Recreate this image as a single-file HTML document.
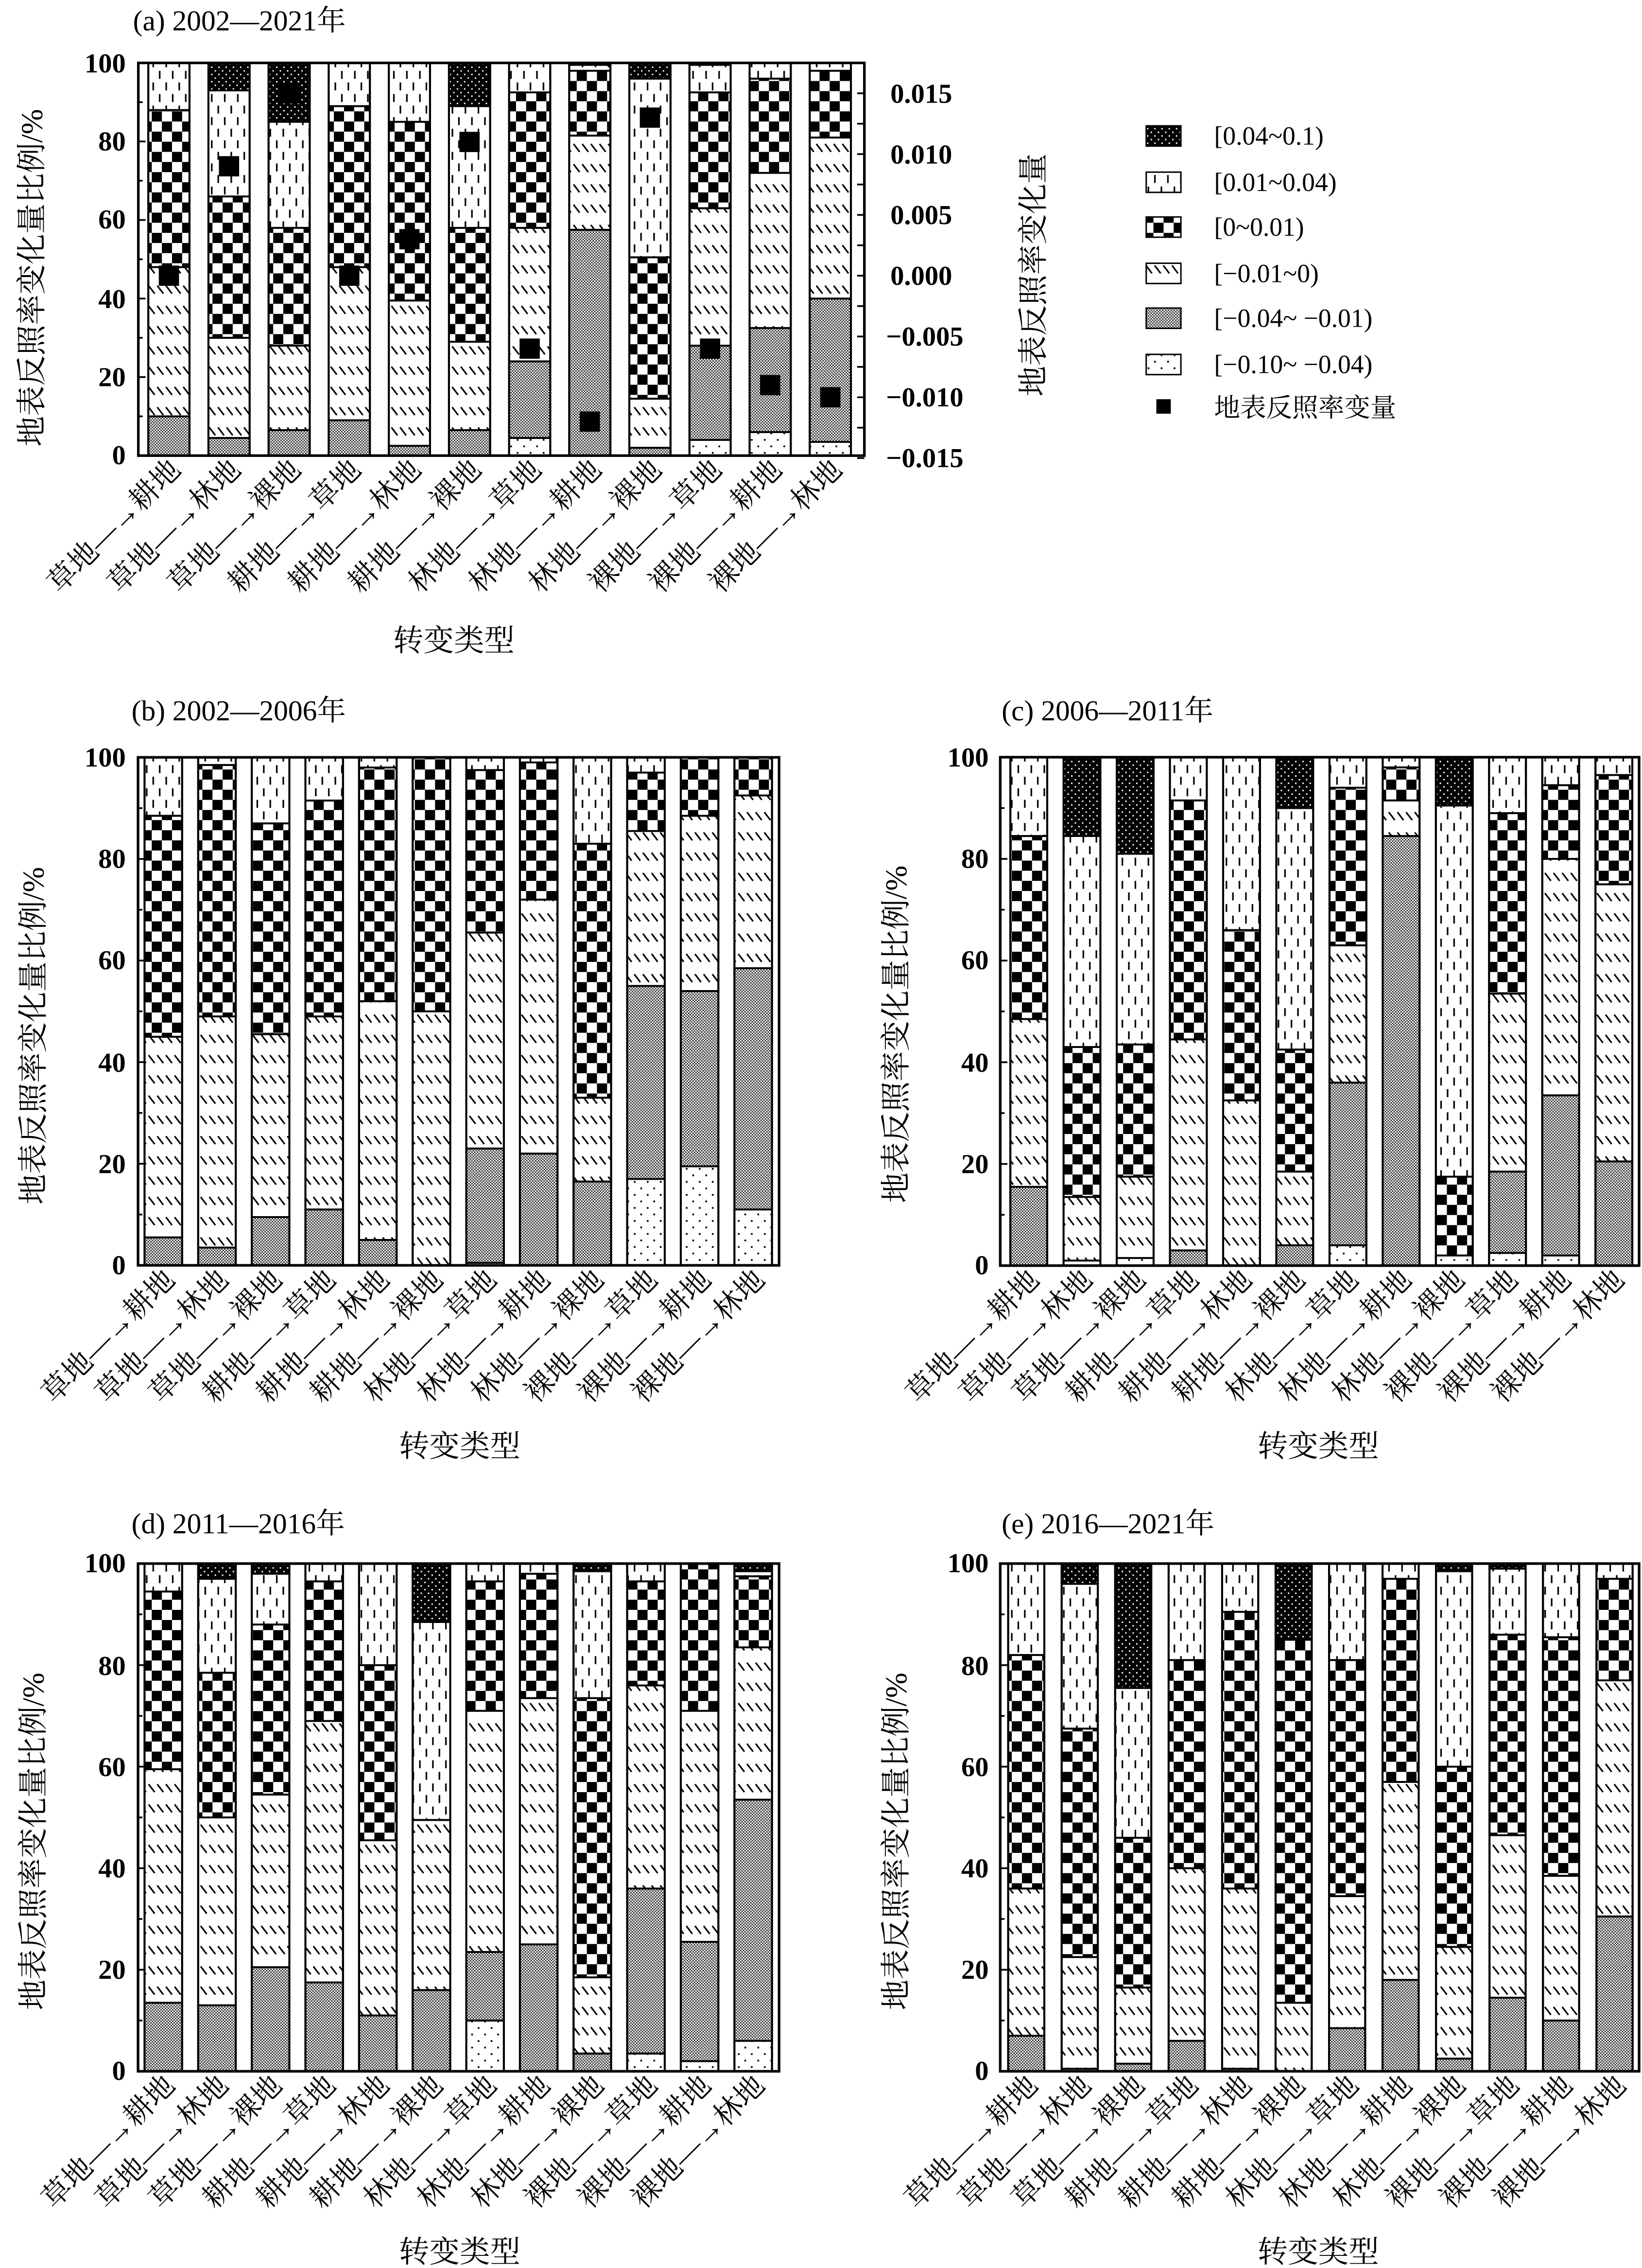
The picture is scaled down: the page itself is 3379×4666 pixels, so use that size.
<!DOCTYPE html>
<html><head><meta charset="utf-8"><style>
html,body{margin:0;padding:0;background:#fff;}
svg{display:block}
text{font-family:"Liberation Serif","Noto Serif CJK SC",serif;fill:#000}
.cj{font-family:"Liberation Serif","Noto Serif CJK SC","Noto Sans CJK SC",serif}
</style></head><body>
<svg id="s" width="3379" height="4666" viewBox="0 0 1136 1568" preserveAspectRatio="none" xmlns="http://www.w3.org/2000/svg">
<defs>
<pattern id="pDots" width="9" height="9" patternUnits="userSpaceOnUse"><rect width="9" height="9" fill="#fff"/><rect x="2" y="2" width="1.2" height="1.2" fill="#000"/><rect x="6.5" y="6.5" width="1.2" height="1.2" fill="#000"/></pattern>
<pattern id="pGrey" width="2" height="2" patternUnits="userSpaceOnUse"><rect width="2" height="2" fill="#fff"/><rect width="1" height="1" fill="#333"/><rect x="1" y="1" width="1" height="1" fill="#333"/></pattern>
<pattern id="pHatch" width="6" height="14" patternUnits="userSpaceOnUse"><rect width="6" height="14" fill="#fff"/><path d="M0.8 1.5 L5 7" stroke="#000" stroke-width="1.1"/></pattern>
<pattern id="pCheck" width="14" height="14" patternUnits="userSpaceOnUse"><rect width="14" height="14" fill="#fff"/><rect width="7" height="7" fill="#000"/><rect x="7" y="7" width="7" height="7" fill="#000"/></pattern>
<pattern id="pDash" width="9" height="16" patternUnits="userSpaceOnUse"><rect width="9" height="16" fill="#fff"/><path d="M2.5 1 V6.5 M7 9 V14.5" stroke="#000" stroke-width="1.1"/></pattern>
<pattern id="pDark" width="5" height="5" patternUnits="userSpaceOnUse"><rect width="5" height="5" fill="#000"/><rect x="1" y="1" width="1" height="1" fill="#fff"/><rect x="3.5" y="3.5" width="1" height="1" fill="#fff"/></pattern>
</defs>
<g id="bars"></g>

<text x="92" y="21" font-size="20" class="cj">(a) 2002—2021年</text>
<text x="91" y="498" font-size="20" class="cj">(b) 2002—2006年</text>
<text x="693" y="498" font-size="20" class="cj">(c) 2006—2011年</text>
<text x="91" y="1060" font-size="20" class="cj">(d) 2011—2016年</text>
<text x="693" y="1060" font-size="20" class="cj">(e) 2016—2021年</text>

<text transform="translate(22,192) rotate(-90)" text-anchor="middle" dominant-baseline="central" font-size="21" class="cj">地表反照率变化量比例/%</text>
<text transform="translate(23,716) rotate(-90)" text-anchor="middle" dominant-baseline="central" font-size="21" class="cj">地表反照率变化量比例/%</text>
<text transform="translate(620,715) rotate(-90)" text-anchor="middle" dominant-baseline="central" font-size="21" class="cj">地表反照率变化量比例/%</text>
<text transform="translate(23,1273) rotate(-90)" text-anchor="middle" dominant-baseline="central" font-size="21" class="cj">地表反照率变化量比例/%</text>
<text transform="translate(620,1273) rotate(-90)" text-anchor="middle" dominant-baseline="central" font-size="21" class="cj">地表反照率变化量比例/%</text>
<text transform="translate(715,190) rotate(-90)" text-anchor="middle" dominant-baseline="central" font-size="21" class="cj">地表反照率变化量</text>

<text x="314" y="450" text-anchor="middle" font-size="21" class="cj">转变类型</text>
<text x="318" y="1007" text-anchor="middle" font-size="21" class="cj">转变类型</text>
<text x="912" y="1007" text-anchor="middle" font-size="21" class="cj">转变类型</text>
<text x="318" y="1564" text-anchor="middle" font-size="21" class="cj">转变类型</text>
<text x="912" y="1564" text-anchor="middle" font-size="21" class="cj">转变类型</text>

<g font-size="19" text-anchor="end" font-weight="bold">
<text x="87" y="50">100</text><text x="87" y="104">80</text><text x="87" y="158">60</text><text x="87" y="213">40</text><text x="87" y="267">20</text><text x="87" y="321">0</text>
</g>
<g font-size="19" font-weight="bold">
<text x="616" y="71">0.015</text><text x="616" y="113">0.010</text><text x="616" y="155">0.005</text><text x="616" y="197">0.000</text>
<text x="613" y="239">−0.005</text><text x="613" y="281">−0.010</text><text x="613" y="323">−0.015</text>
</g>
<g font-size="19" text-anchor="end" font-weight="bold">
<text x="87" y="530">100</text><text x="87" y="600">80</text><text x="87" y="670">60</text><text x="87" y="741">40</text><text x="87" y="811">20</text><text x="87" y="881">0</text>
<text x="87" y="1087">100</text><text x="87" y="1158">80</text><text x="87" y="1228">60</text><text x="87" y="1298">40</text><text x="87" y="1368">20</text><text x="87" y="1438">0</text>
<text x="684" y="530">100</text><text x="684" y="600">80</text><text x="684" y="670">60</text><text x="684" y="741">40</text><text x="684" y="811">20</text><text x="684" y="881">0</text>
<text x="684" y="1087">100</text><text x="684" y="1158">80</text><text x="684" y="1228">60</text><text x="684" y="1298">40</text><text x="684" y="1368">20</text><text x="684" y="1438">0</text>
</g>

<g font-size="18">
<rect x="793" y="87" width="24" height="14" fill="url(#pDark)" stroke="#000"/><text x="840" y="100">[0.04~0.1)</text>
<rect x="793" y="119" width="24" height="14" fill="url(#pDash)" stroke="#000"/><text x="840" y="132">[0.01~0.04)</text>
<rect x="793" y="150" width="24" height="14" fill="url(#pCheck)" stroke="#000"/><text x="840" y="163">[0~0.01)</text>
<rect x="793" y="182" width="24" height="14" fill="url(#pHatch)" stroke="#000"/><text x="840" y="195">[−0.01~0)</text>
<rect x="793" y="213" width="24" height="14" fill="url(#pGrey)" stroke="#000"/><text x="840" y="226">[−0.04~ −0.01)</text>
<rect x="793" y="245" width="24" height="14" fill="url(#pDots)" stroke="#000"/><text x="840" y="258">[−0.10~ −0.04)</text>
<rect x="800" y="276" width="10" height="10" fill="#000"/><text x="840" y="288" class="cj">地表反照率变量</text>
</g>

<g font-size="20" text-anchor="end" class="cj" transform="translate(126,326)">
<text transform="translate(0,0) rotate(-45)">草地—→耕地</text>
<text transform="translate(41.6,0) rotate(-45)">草地—→林地</text>
<text transform="translate(83.2,0) rotate(-45)">草地—→裸地</text>
<text transform="translate(124.8,0) rotate(-45)">耕地—→草地</text>
<text transform="translate(166.4,0) rotate(-45)">耕地—→林地</text>
<text transform="translate(208,0) rotate(-45)">耕地—→裸地</text>
<text transform="translate(249.6,0) rotate(-45)">林地—→草地</text>
<text transform="translate(291.2,0) rotate(-45)">林地—→耕地</text>
<text transform="translate(332.8,0) rotate(-45)">林地—→裸地</text>
<text transform="translate(374.4,0) rotate(-45)">裸地—→草地</text>
<text transform="translate(416,0) rotate(-45)">裸地—→耕地</text>
<text transform="translate(457.6,0) rotate(-45)">裸地—→林地</text>
</g>
<g font-size="20" text-anchor="end" class="cj" transform="translate(122,886)">
<text transform="translate(0,0) rotate(-45)">草地—→耕地</text>
<text transform="translate(37.1,0) rotate(-45)">草地—→林地</text>
<text transform="translate(74.2,0) rotate(-45)">草地—→裸地</text>
<text transform="translate(111.3,0) rotate(-45)">耕地—→草地</text>
<text transform="translate(148.4,0) rotate(-45)">耕地—→林地</text>
<text transform="translate(185.5,0) rotate(-45)">耕地—→裸地</text>
<text transform="translate(222.6,0) rotate(-45)">林地—→草地</text>
<text transform="translate(259.7,0) rotate(-45)">林地—→耕地</text>
<text transform="translate(296.8,0) rotate(-45)">林地—→裸地</text>
<text transform="translate(333.9,0) rotate(-45)">裸地—→草地</text>
<text transform="translate(371,0) rotate(-45)">裸地—→耕地</text>
<text transform="translate(408.1,0) rotate(-45)">裸地—→林地</text>
</g>
<g font-size="20" text-anchor="end" class="cj" transform="translate(720,886)">
<text transform="translate(0,0) rotate(-45)">草地—→耕地</text>
<text transform="translate(36.8,0) rotate(-45)">草地—→林地</text>
<text transform="translate(73.6,0) rotate(-45)">草地—→裸地</text>
<text transform="translate(110.4,0) rotate(-45)">耕地—→草地</text>
<text transform="translate(147.2,0) rotate(-45)">耕地—→林地</text>
<text transform="translate(184,0) rotate(-45)">耕地—→裸地</text>
<text transform="translate(220.8,0) rotate(-45)">林地—→草地</text>
<text transform="translate(257.6,0) rotate(-45)">林地—→耕地</text>
<text transform="translate(294.4,0) rotate(-45)">林地—→裸地</text>
<text transform="translate(331.2,0) rotate(-45)">裸地—→草地</text>
<text transform="translate(368,0) rotate(-45)">裸地—→耕地</text>
<text transform="translate(404.8,0) rotate(-45)">裸地—→林地</text>
</g>
<g font-size="20" text-anchor="end" class="cj" transform="translate(122,1443)">
<text transform="translate(0,0) rotate(-45)">草地—→耕地</text>
<text transform="translate(37.1,0) rotate(-45)">草地—→林地</text>
<text transform="translate(74.2,0) rotate(-45)">草地—→裸地</text>
<text transform="translate(111.3,0) rotate(-45)">耕地—→草地</text>
<text transform="translate(148.4,0) rotate(-45)">耕地—→林地</text>
<text transform="translate(185.5,0) rotate(-45)">耕地—→裸地</text>
<text transform="translate(222.6,0) rotate(-45)">林地—→草地</text>
<text transform="translate(259.7,0) rotate(-45)">林地—→耕地</text>
<text transform="translate(296.8,0) rotate(-45)">林地—→裸地</text>
<text transform="translate(333.9,0) rotate(-45)">裸地—→草地</text>
<text transform="translate(371,0) rotate(-45)">裸地—→耕地</text>
<text transform="translate(408.1,0) rotate(-45)">裸地—→林地</text>
</g>
<g font-size="20" text-anchor="end" class="cj" transform="translate(719,1443)">
<text transform="translate(0,0) rotate(-45)">草地—→耕地</text>
<text transform="translate(37,0) rotate(-45)">草地—→林地</text>
<text transform="translate(74,0) rotate(-45)">草地—→裸地</text>
<text transform="translate(111,0) rotate(-45)">耕地—→草地</text>
<text transform="translate(148,0) rotate(-45)">耕地—→林地</text>
<text transform="translate(185,0) rotate(-45)">耕地—→裸地</text>
<text transform="translate(222,0) rotate(-45)">林地—→草地</text>
<text transform="translate(259,0) rotate(-45)">林地—→耕地</text>
<text transform="translate(296,0) rotate(-45)">林地—→裸地</text>
<text transform="translate(333,0) rotate(-45)">裸地—→草地</text>
<text transform="translate(370,0) rotate(-45)">裸地—→耕地</text>
<text transform="translate(407,0) rotate(-45)">裸地—→林地</text>
</g>
</svg>
<script>
(function(){
var NS="http://www.w3.org/2000/svg";
var g=document.getElementById("bars");
var fills=["url(#pDots)","url(#pGrey)","url(#pHatch)","url(#pCheck)","url(#pDash)","url(#pDark)"];
function el(t,a){var e=document.createElementNS(NS,t);for(var k in a)e.setAttribute(k,a[k]);g.appendChild(e);return e;}
var P=[
{bx0:95.7,bx1:598,top:43.5,bot:315,x0:102.6,p:41.6,w:28.5,d:[
[0,10,48,88,100,100],[0,4.5,30,66,93,100],[0,6.5,28,58,85,100],[0,9,48,89,100,100],[0,2.5,39.5,85,100,100],[0,6.5,29,58,89,100],
[4.5,24,58,92.5,100,100],[0,57.5,81.5,98,99.5,100],[0,2,14.5,50.5,96,100],[4,28,63,92.5,99.5,100],[6,32.5,72,96,100,100],[3.5,40,81,98,100,100]],
m:[0,0.009,0.015,0,0.003,0.011,-0.006,-0.012,0.013,-0.006,-0.009,-0.010]},
{bx0:95.5,bx1:539,top:523.6,bot:874.8,x0:100,p:37.1,w:26,d:[
[0,5.5,45,88.5,100,100],[0,3.5,49,98.5,100,100],[0,9.5,45.5,87,100,100],[0,11,49,91.5,100,100],[0,5,52,98,100,100],[0,0,50,100,100,100],
[0.5,23,65.5,97.5,100,100],[0,22,72,99,100,100],[0,16.5,33,83,100,100],[17,55,85.5,97,100,100],[19.5,54,88.5,100,100,100],[11,58.5,92.5,100,100,100]]},
{bx0:692,bx1:1134,top:523.5,bot:875,x0:699,p:36.8,w:25.5,d:[
[0,15.5,48.5,84.5,100,100],[1,1,13.5,43,84.5,100],[1.5,1.5,17.5,43.5,81,100],[0,3,44.5,91.5,100,100],[0,0,32.5,66,100,100],[0,4,18.5,42.5,90,100],
[4,36,63,94,100,100],[0,84.5,91.5,98,100,100],[2,2,2,17.5,90.5,100],[2.5,18.5,53.5,89,100,100],[2,33.5,80,94.5,100,100],[0,20.5,75,96.5,100,100]]},
{bx0:95.5,bx1:539,top:1081,bot:1432,x0:100,p:37.1,w:26,d:[
[0,13.5,59.5,94.5,100,100],[0,13,50,78.5,97,100],[0,20.5,54.5,88,98,100],[0,17.5,69,96.5,100,100],[0,11,45.5,80,100,100],[0,16,49.5,49.5,88.5,100],
[10,23.5,71,96.5,100,100],[0,25,73.5,98,100,100],[0,3.5,18.5,73.5,98.5,100],[3.5,36,76,96.5,100,100],[2,25.5,71,100,100,100],[6,53.5,83.5,97.5,98.5,100]]},
{bx0:692,bx1:1134,top:1081,bot:1432,x0:697.5,p:37,w:25,d:[
[0,7,36,82,100,100],[0,0.5,22.5,67.5,96,100],[0,1.5,16.5,46,75.5,100],[0,6,40,81,100,100],[0,0.5,36,90.5,100,100],[0,0,13.5,85,85,100],
[0,8.5,34.5,81,100,100],[0,18,57,97,100,100],[0,2.5,24.5,60,98.5,100],[0,14.5,46.5,86,99,100],[0,10,38.5,85.5,100,100],[0,30.5,77,97,100,100]]}
];
P.forEach(function(q){
  var H=q.bot-q.top;
  function Y(v){return q.bot-v/100*H;}
  q.d.forEach(function(b,i){
    var x=q.x0+i*q.p, prev=0;
    for(var k=0;k<6;k++){
      if(b[k]>prev){
        el("rect",{x:x,y:Y(b[k]),width:q.w,height:Y(prev)-Y(b[k]),fill:fills[k],stroke:"#000","stroke-width":1.3});
      }
      prev=b[k];
    }
    el("rect",{x:x,y:q.top,width:q.w,height:H,fill:"none",stroke:"#000","stroke-width":1.4});
  });
  el("rect",{x:q.bx0,y:q.top,width:q.bx1-q.bx0,height:H,fill:"none",stroke:"#000","stroke-width":1.8});
  for(var t=10;t<100;t+=10){
    var yy=Y(t);
    el("line",{x1:q.bx0,x2:q.bx0+(t%20?3:5),y1:yy,y2:yy,stroke:"#000","stroke-width":1.2});
  }
  if(q.m){
    for(var v=-0.015;v<=0.0151;v+=0.0025){
      var y2=190.6-v*8406;
      if(y2<q.top||y2>q.bot+2)continue;
      el("line",{x1:q.bx1,x2:q.bx1-5,y1:y2,y2:y2,stroke:"#000","stroke-width":1.2});
    }
    q.m.forEach(function(v,i){
      var cx=q.x0+i*q.p+q.w/2, cy=190.6-v*8406;
      el("rect",{x:cx-7,y:cy-7,width:14,height:14,fill:"#000"});
    });
  }
});
})();
</script>
</body></html>
